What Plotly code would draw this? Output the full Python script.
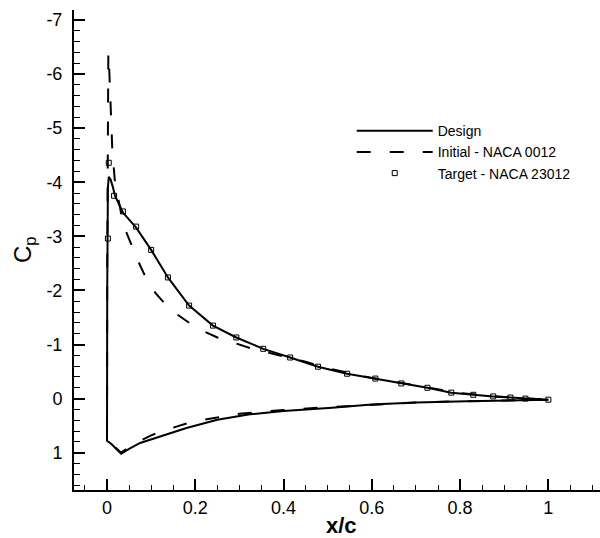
import plotly.graph_objects as go

# ---------------- data ----------------
# Design: lower surface (from leading edge to trailing edge)
design_lower_x = [0.0, 0.01, 0.032, 0.05, 0.075, 0.12, 0.18, 0.25, 0.324, 0.40, 0.44,
                  0.51, 0.60, 0.70, 0.815, 0.907, 1.0]
design_lower_cp = [0.78, 0.84, 1.02, 0.93, 0.82, 0.70, 0.545, 0.39, 0.29, 0.23, 0.21,
                   0.17, 0.11, 0.07, 0.05, 0.03, 0.02]
# Design: upper surface (from leading edge to trailing edge)
design_upper_x = [0.0, 0.0005, 0.002, 0.004, 0.008, 0.013, 0.018, 0.036, 0.066, 0.10,
                  0.138, 0.186, 0.24, 0.293, 0.354, 0.415, 0.478, 0.544, 0.608, 0.667,
                  0.726, 0.78, 0.83, 0.875, 0.914, 0.948, 1.0]
design_upper_cp = [0.78, -2.0, -3.9, -4.1, -4.05, -3.92, -3.75, -3.44, -3.16, -2.75,
                   -2.24, -1.72, -1.35, -1.13, -0.92, -0.76, -0.59, -0.46, -0.37, -0.28,
                   -0.2, -0.11, -0.07, -0.04, -0.02, 0.0, 0.02]

# Initial - NACA 0012
initial_lower_x = [0.0, 0.01, 0.032, 0.05, 0.075, 0.1, 0.125, 0.15, 0.18, 0.22, 0.25,
                   0.3, 0.35, 0.4, 0.5, 0.6, 0.7, 0.8, 0.9, 1.0]
initial_lower_cp = [0.78, 0.84, 1.0, 0.9, 0.78, 0.68, 0.6, 0.53, 0.46, 0.39, 0.35,
                    0.28, 0.24, 0.21, 0.16, 0.11, 0.07, 0.05, 0.03, 0.02]
initial_upper_x = [0.0, 0.0005, 0.0015, 0.003, 0.005, 0.008, 0.012, 0.018, 0.025, 0.034,
                   0.045, 0.057, 0.07, 0.09, 0.11, 0.135, 0.16, 0.19, 0.22, 0.25, 0.29,
                   0.33, 0.38, 0.45, 0.5, 0.6, 0.7, 0.8, 0.9, 0.95, 1.0]
initial_upper_cp = [0.78, -2.5, -5.5, -6.4, -6.1, -5.5, -4.6, -4.0, -3.7, -3.35,
                    -3.05, -2.8, -2.55, -2.2, -1.95, -1.72, -1.55, -1.38, -1.24, -1.13, -1.02,
                    -0.92, -0.82, -0.68, -0.56, -0.38, -0.245, -0.1, -0.03, -0.01, 0.02]

# Target - NACA 23012 (upper surface points)
target_x = [0.002, 0.004, 0.016, 0.036, 0.066, 0.10, 0.138, 0.186, 0.24, 0.293, 0.354,
            0.415, 0.478, 0.544, 0.608, 0.667, 0.726, 0.78, 0.83, 0.875, 0.914, 0.948, 1.0]
target_cp = [-2.96, -4.36, -3.75, -3.46, -3.18, -2.75, -2.24, -1.72, -1.35, -1.13, -0.92,
             -0.76, -0.59, -0.46, -0.37, -0.28, -0.2, -0.11, -0.07, -0.04, -0.02, 0.0, 0.02]

x_tick_vals = [0, 0.2, 0.4, 0.6, 0.8, 1]
x_tick_text = ["0", "0.2", "0.4", "0.6", "0.8", "1"]
y_tick_vals = [-7, -6, -5, -4, -3, -2, -1, 0, 1]
y_tick_text = ["-7", "-6", "-5", "-4", "-3", "-2", "-1", "0", "1"]

# ---------------- figure ----------------
FONT = "Liberation Sans, Arial, sans-serif"

design_x = design_lower_x[::-1] + design_upper_x[1:]
design_cp = design_lower_cp[::-1] + design_upper_cp[1:]
initial_x = initial_lower_x[::-1] + initial_upper_x[1:]
initial_cp = initial_lower_cp[::-1] + initial_upper_cp[1:]

fig = go.Figure()
fig.add_trace(go.Scatter(x=design_x, y=design_cp, mode="lines", name="Design",
                         line=dict(color="black", width=2)))
fig.add_trace(go.Scatter(x=initial_x, y=initial_cp, mode="lines", name="Initial - NACA 0012",
                         line=dict(color="black", width=2, dash="14px,19px")))
fig.add_trace(go.Scatter(x=target_x, y=target_cp, mode="markers", name="Target - NACA 23012",
                         marker=dict(symbol="square-open", size=5, color="black",
                                     line=dict(width=1, color="black"))))

fig.update_layout(
    width=600, height=538,
    margin=dict(l=74, r=0, t=10, b=48),
    paper_bgcolor="white", plot_bgcolor="white",
    font=dict(family=FONT, color="black"),
    showlegend=True,
    legend=dict(x=0.528, y=0.781, xanchor="left", yanchor="top",
                bgcolor="rgba(0,0,0,0)", font=dict(size=14, family=FONT),
                itemwidth=76, tracegroupgap=0),
    xaxis=dict(range=[-0.0748, 1.117], showgrid=False, zeroline=False,
               showline=True, linecolor="black", linewidth=2,
               tickmode="array", tickvals=x_tick_vals, ticktext=x_tick_text,
               ticks="inside", ticklen=11, tickwidth=2, tickcolor="black",
               tickfont=dict(size=18, family=FONT),
               minor=dict(tickmode="linear", tick0=0, dtick=0.05, ticks="inside",
                          ticklen=5, tickwidth=1, tickcolor="black", showgrid=False)),
    yaxis=dict(range=[1.69, -7.185], showgrid=False, zeroline=False,
               showline=True, linecolor="black", linewidth=2,
               tickmode="array", tickvals=y_tick_vals, ticktext=y_tick_text,
               ticks="inside", ticklen=11, tickwidth=2, tickcolor="black",
               tickfont=dict(size=18, family=FONT), ticklabelstandoff=6,
               minor=dict(tickmode="linear", tick0=0, dtick=0.2, ticks="inside",
                          ticklen=6, tickwidth=1, tickcolor="black", showgrid=False)),
    annotations=[
        dict(text="<b>x/c</b>", xref="paper", yref="paper", x=0.5095, y=-0.073,
             xanchor="center", yanchor="middle", showarrow=False,
             font=dict(size=22, family=FONT)),
        dict(text="C<sub>p</sub>", xref="paper", yref="paper", x=-0.095, y=0.5,
             xanchor="center", yanchor="middle", showarrow=False, textangle=-90,
             font=dict(size=24, family=FONT)),
    ],
)

fig.write_html("out.html")
